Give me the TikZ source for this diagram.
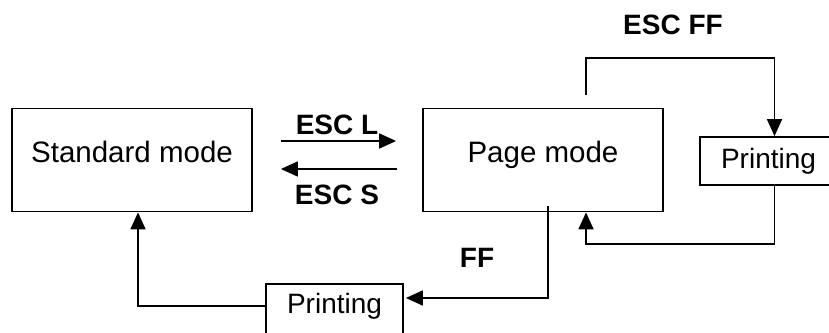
\documentclass[tikz,border=0pt]{standalone}
\usepackage{fontspec}
\setmainfont{Liberation Sans}
\usetikzlibrary{arrows.meta}

\begin{document}
\begin{tikzpicture}[x=1pt,y=-1pt,line width=1.8pt,font=\fontsize{28}{34}\selectfont,
  modebox/.style={draw,inner sep=0pt,minimum width=240pt,minimum height=103pt,text height=20pt,text depth=16pt,font=\fontsize{29.5}{34}\selectfont},
  prtbox/.style={draw,inner sep=0pt,minimum width=137pt,minimum height=48pt},
  cmd/.style={font=\fontsize{28}{34}\selectfont\bfseries},
  tri/.style={-{Triangle[length=17pt,width=15pt]}}]
\useasboundingbox (0,0) rectangle (829,332);
\node[modebox] (std) at (132,160) {Standard mode};
\node[modebox] (page) at (543,160) {Page mode};
\node[prtbox] (prt1) at (768.5,161) {Printing};
\node[prtbox,minimum height=60pt,text height=20pt,text depth=22pt] (prt2) at (334.5,314) {Printing};
% switching between the two modes
\draw[tri] ([shift={(28,-19)}]std.east) -- ([shift={(-26,-19)}]page.west);
\draw[tri] ([shift={(-25,9)}]page.west) -- ([shift={(28,9)}]std.east);
\node[cmd] (escl) at (337,125) {ESC L};
\node[cmd] (escs) at (337,195) {ESC S};
% print and stay in page mode
\draw[tri] ([shift={(43,-13)}]page.north) |- ([shift={(6,-78)}]prt1.north) -- ([xshift=6pt]prt1.north);
\draw[tri] ([xshift=6pt]prt1.south) -- ++(0,58) -| ([xshift=43pt]page.south);
\node[cmd] (escff) at (673,25) {ESC FF};
% print and go back to standard mode
\draw[tri] ([shift={(5,-6)}]page.south) |- ([shift={(2,-16)}]prt2.east);
\draw[tri] ([yshift=8pt]prt2.west) -| ([xshift=6pt]std.south);
\node[cmd] (ff) at (477,258) {FF};
\end{tikzpicture}
\end{document}
